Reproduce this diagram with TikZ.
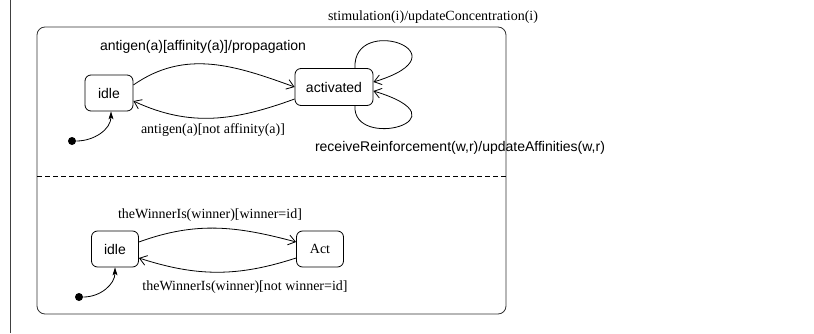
\documentclass[tikz,border=0pt]{standalone}
\usepackage{fontspec}
\setmainfont{Liberation Serif}
\setsansfont{Liberation Sans}
\usetikzlibrary{arrows.meta}

\begin{document}
\begin{tikzpicture}[x = 1pt, y = 1pt, line width = 0.8pt,
    every node/.style = {font = \fontsize{14}{16}\selectfont},
    sf/.style = {font = \fontsize{14}{16}\selectfont\sffamily},
    state/.style = {draw, rounded corners = 6pt, minimum height = 36pt, inner sep = 0pt},
    init/.style = {circle, fill, inner sep = 0pt, minimum size = 8pt},
    trans/.style = {-{Straight Barb[length = 7pt, width = 10pt]}},
    start/.style = {-{Stealth[length = 8pt, width = 5pt, inset = 2pt]}}]
    \useasboundingbox (0, 0) rectangle (814, 333);
    \draw [black!75] (10, 0) -- (10, 333);
    \draw [black!80, rounded corners = 8pt] (37, 19) rectangle (506, 306);
    \draw [dashed, dash pattern = on 5pt off 3pt] (37, 157) -- (506, 157);
    \draw
        node [state, sf, minimum width = 48pt] (idleA) at (109, 240) {idle}
        node [state, sf, minimum width = 78pt, minimum height = 37pt] (actA) at (334, 246) {activated}
        node [init] (dotA) at (72, 192) {}
        node [state, sf, minimum width = 47pt] (idleB) at (115, 84) {idle}
        node [state, minimum width = 47pt] (actB) at (320, 84) {Act}
        node [init] (dotB) at (79, 36) {};
    \path
        node [sf] (propLbl) at (203, 286) {antigen(a)[affinity(a)]/propagation}
        node (notLbl) at (213, 203) {antigen(a)[not affinity(a)]}
        node (stimLbl) at (433, 316) {stimulation(i)/updateConcentration(i)}
        node [sf] (reinfLbl) at (460, 185) {receiveReinforcement(w,r)/updateAffinities(w,r)}
        node (winLbl) at (210, 118) {theWinnerIs(winner)[winner=id]}
        node (loseLbl) at (245, 46) {theWinnerIs(winner)[not winner=id]};
    % upper region
    \draw [trans] ([yshift = 8pt] idleA.east) to [out = 35, in = 160] (actA.west);
    \draw [trans] ([yshift = -12pt] actA.west) to [out = 200, in = -25] ([yshift = -8pt] idleA.east);
    \draw [trans] ([xshift = 21pt] actA.north) .. controls +(-3, 55) and +(97, 29) .. ([yshift = 5pt] actA.east);
    \draw [trans] ([xshift = 21pt] actA.south) .. controls +(-3, -45) and +(97, -29) .. ([yshift = -4pt] actA.east);
    \draw [start] (dotA) to [out = 0, in = -90] ([xshift = 2pt] idleA.south);
    % lower region
    \draw [trans] ([yshift = 7pt] idleB.east) to [out = 20, in = 165] ([yshift = 7pt] actB.west);
    \draw [trans] ([yshift = -9pt] actB.west) to [out = 198, in = -18] ([yshift = -9pt] idleB.east);
    \draw [start] (dotB) to [out = 0, in = -90] (idleB.south);
\end{tikzpicture}
\end{document}
